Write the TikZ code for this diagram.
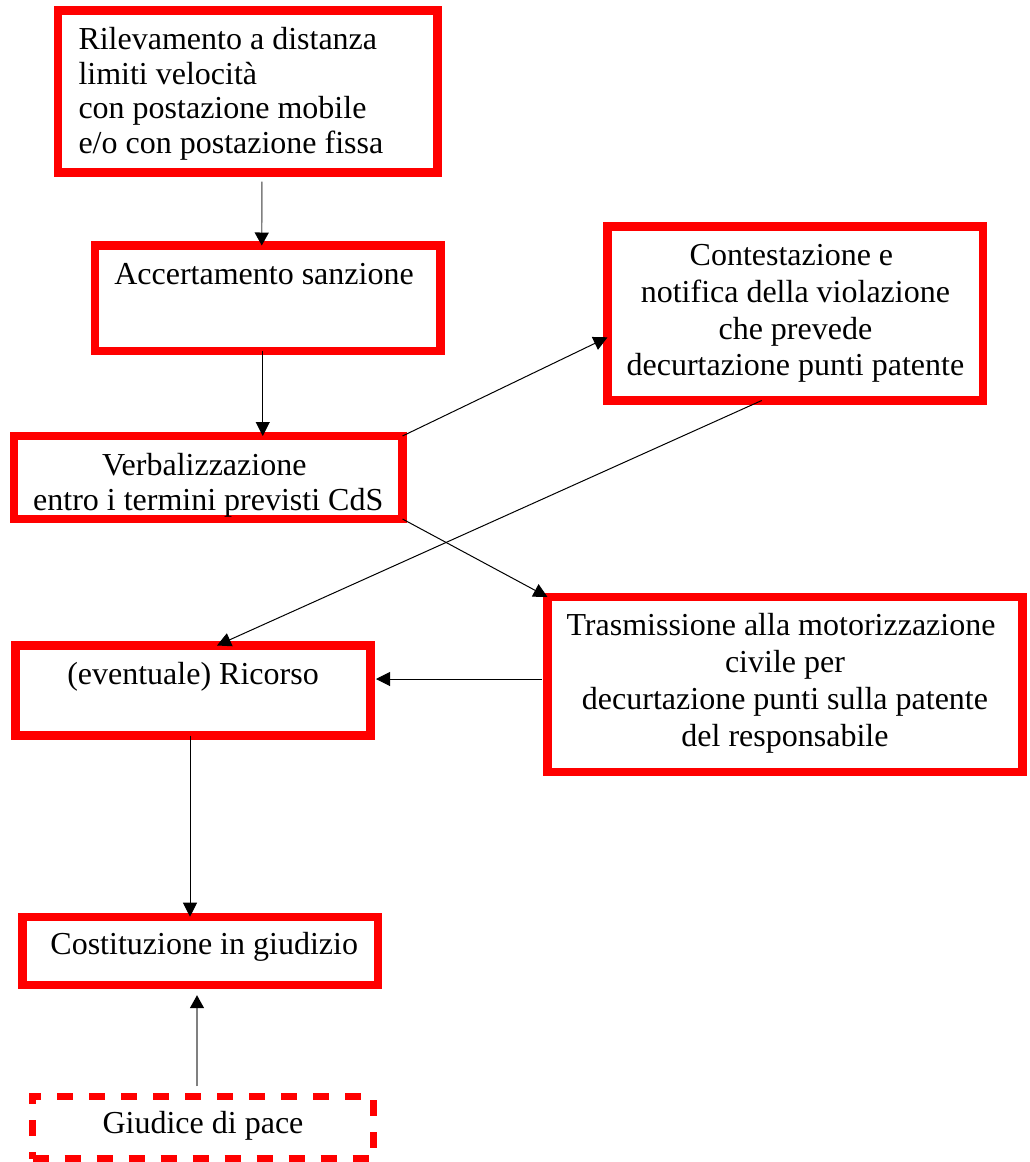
\documentclass[tikz,border=0pt]{standalone}
\usepackage{fontspec}
\setmainfont{Liberation Serif}
\usetikzlibrary{arrows.meta}

\begin{document}
\begin{tikzpicture}[x=1pt,y=-1pt,
	redbox/.style={draw=red, line width=8.3pt, outer sep=0pt, inner sep=0pt},
	dashbox/.style={redbox, line width=7.3pt, dash pattern=on 16pt off 16pt},
	lbl/.style={inner sep=0pt, font=\fontsize{32}{36.7}\selectfont, align=center},
	link/.style={line width=1pt, -{Triangle[length=14pt,width=14pt]}},
	greylink/.style={link, draw=gray, line width=1.4pt, -{Triangle[length=13pt,width=14pt,black]}}]
			\useasboundingbox (0,0) rectangle (1030,1162);
			% boxes
			\node[redbox, minimum width=379.2pt, minimum height=162pt] (ril) at (247.9,91.5) {};
			\node[redbox, minimum width=345.5pt, minimum height=105.5pt] (acc) at (267.75,298.25) {};
			\node[redbox, minimum width=375.8pt, minimum height=174pt] (cont) at (795.4,313.5) {};
			\node[redbox, minimum width=388.5pt, minimum height=83pt] (verb) at (208.25,477.5) {};
			\node[redbox, minimum width=475pt, minimum height=174.7pt] (tras) at (785,684.35) {};
			\node[redbox, minimum width=355pt, minimum height=90pt] (ric) at (193,690.5) {};
			\node[redbox, minimum width=355.8pt, minimum height=68.5pt] (cost) at (200.4,950.95) {};
			\node[dashbox, minimum width=340.6pt, minimum height=62.7pt] (giu) at (203,1127.65) {};
			% labels
			\node[lbl, align=left, font=\fontsize{32}{34.7}\selectfont, anchor=west] (riltext) at ([xshift=20pt,yshift=-2.3pt]ril.west)
				{Rilevamento a distanza\\limiti velocità\\con postazione mobile\\e/o con postazione fissa};
			\node[lbl, anchor=base] (acctext) at ([xshift=-3.75pt,yshift=14.25pt]acc.center) {Accertamento sanzione};
			\node[lbl] (conttext) at (cont.center)
				{Contestazione e\hspace*{.25em}\\notifica della violazione\\che prevede\\decurtazione punti patente};
			\node[lbl, font=\fontsize{32}{35}\selectfont] (verbtext) at ([yshift=-7.5pt]verb.center)
				{Verbalizzazione\hspace*{.25em}\\entro i termini previsti CdS};
			\node[lbl] (trastext) at ([yshift=1.1pt]tras.center)
				{Trasmissione alla motorizzazione\hspace*{.25em}\\civile per\\decurtazione punti sulla patente\\del responsabile};
			\node[lbl, anchor=base] (rictext) at ([yshift=6.5pt]ric.center) {(eventuale) Ricorso};
			\node[lbl, anchor=base] (costtext) at ([xshift=3.8pt,yshift=-4pt]cost.center) {Costituzione in giudizio};
			\node[lbl, anchor=base] (giutext) at ([yshift=-6.3pt]giu.center) {Giudice di pace};
			% connectors
			\draw[greylink, shorten <=9pt] ([xshift=14pt]ril.south) -- ([xshift=-6pt]acc.north);
			\draw[link] ([xshift=-5pt]acc.south) -- ([xshift=54.5pt]verb.north);
			\draw[link] (verb.north east) -- ([yshift=-23.8pt]cont.west);
			\draw[link] ([xshift=-33.7pt]cont.south) -- ([xshift=24pt]ric.north);
			\draw[link] (verb.south east) -- (tras.north west);
			\draw[link, shorten <=6pt, shorten >=5.5pt] ([yshift=5.35pt]tras.west) -- ([yshift=11.5pt]ric.east);
			\draw[link] ([xshift=-3pt]ric.south) -- ([xshift=-10.4pt]cost.north);
			\draw[greylink, shorten <=10pt, shorten >=10pt] ([xshift=-6pt]giu.north) -- ([xshift=-3.4pt]cost.south);
	\end{tikzpicture}
\end{document}
